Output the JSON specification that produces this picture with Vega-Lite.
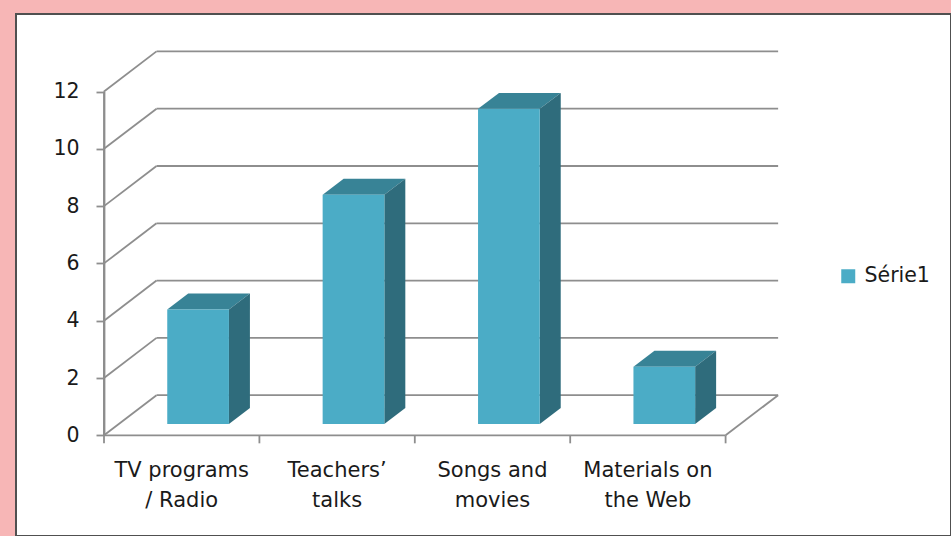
{
  "$schema": "https://vega.github.io/schema/vega-lite/v6.json",
  "width": 935,
  "height": 522,
  "autosize": {"type": "none"},
  "padding": {"left": 16, "top": 14, "right": 0, "bottom": 0},
  "background": "#F7B6B6",
  "config": {
    "view": {"stroke": "#505050", "strokeWidth": 2, "fill": "#ffffff"},
    "font": "DejaVu Sans"
  },
  "datasets": {
    "bars": [
      {"category": "TV programs\n/ Radio", "value": 4, "series": "Série1"},
      {"category": "Teachers’\ntalks", "value": 8, "series": "Série1"},
      {"category": "Songs and\nmovies", "value": 11, "series": "Série1"},
      {"category": "Materials on\nthe Web", "value": 2, "series": "Série1"}
    ],
    "levels": [{"level": 0}, {"level": 2}, {"level": 4}, {"level": 6}, {"level": 8}, {"level": 10}, {"level": 12}],
    "bounds": [{"b": 0}, {"b": 1}, {"b": 2}, {"b": 3}, {"b": 4}]
  },
  "layer": [
    {
      "data": {"name": "levels"},
      "mark": {"type": "rule", "color": "#8E8E8E", "strokeWidth": 1.8},
      "encoding": {
        "x": {"datum": 0, "type": "quantitative", "scale": {"domain": [0, 4], "range": [88, 709.6], "nice": false, "zero": false}, "axis": null},
        "y": {"field": "level", "type": "quantitative", "scale": {"domain": [0, 12], "range": [421.3, 77.5], "nice": false, "zero": false},
          "axis": {"orient": "left", "offset": -88, "values": [0, 2, 4, 6, 8, 10, 12], "title": null, "grid": false,
            "domain": true, "domainColor": "#8E8E8E", "domainWidth": 1.8,
            "ticks": true, "tickColor": "#8E8E8E", "tickWidth": 1.8, "tickSize": 8,
            "labelPadding": 17, "labelFont": "DejaVu Sans", "labelFontSize": 20.5, "labelColor": "#1a1a1a"}},
        "y2": {"datum": 0}
      }
    },
    {
      "data": {"name": "levels"},
      "transform": [{"calculate": "datum.level + 1.4", "as": "yb"}],
      "mark": {"type": "rule", "color": "#8E8E8E", "strokeWidth": 1.8},
      "encoding": {
        "x": {"datum": 0.338, "type": "quantitative", "scale": {"domain": [0, 4], "range": [88, 709.6], "nice": false, "zero": false}, "axis": null},
        "x2": {"datum": 4.338},
        "y": {"field": "yb", "type": "quantitative", "scale": {"domain": [0, 12], "range": [421.3, 77.5], "nice": false, "zero": false}, "axis": {"title": null}}
      }
    },
    {
      "data": {"name": "levels"},
      "transform": [{"calculate": "datum.level + 1.4", "as": "yb"}],
      "mark": {"type": "rule", "color": "#8E8E8E", "strokeWidth": 1.8},
      "encoding": {
        "x": {"datum": 0, "type": "quantitative", "scale": {"domain": [0, 4], "range": [88, 709.6], "nice": false, "zero": false}, "axis": null},
        "x2": {"datum": 0.338},
        "y": {"field": "level", "type": "quantitative", "scale": {"domain": [0, 12], "range": [421.3, 77.5], "nice": false, "zero": false}, "axis": {"title": null}},
        "y2": {"field": "yb"}
      }
    },
    {
      "data": {"values": [{}]},
      "mark": {"type": "rule", "color": "#8E8E8E", "strokeWidth": 1.8},
      "encoding": {
        "x": {"datum": 0, "type": "quantitative", "scale": {"domain": [0, 4], "range": [88, 709.6], "nice": false, "zero": false}, "axis": null},
        "x2": {"datum": 4},
        "y": {"datum": 0, "type": "quantitative", "scale": {"domain": [0, 12], "range": [421.3, 77.5], "nice": false, "zero": false}, "axis": {"title": null}}
      }
    },
    {
      "data": {"values": [{}]},
      "mark": {"type": "rule", "color": "#8E8E8E", "strokeWidth": 1.8},
      "encoding": {
        "x": {"datum": 4, "type": "quantitative", "scale": {"domain": [0, 4], "range": [88, 709.6], "nice": false, "zero": false}, "axis": null},
        "x2": {"datum": 4.338},
        "y": {"datum": 0, "type": "quantitative", "scale": {"domain": [0, 12], "range": [421.3, 77.5], "nice": false, "zero": false}, "axis": {"title": null}},
        "y2": {"datum": 1.4}
      }
    },
    {
      "data": {"name": "bounds"},
      "mark": {"type": "rule", "color": "#8E8E8E", "strokeWidth": 1.8},
      "encoding": {
        "x": {"field": "b", "type": "quantitative", "scale": {"domain": [0, 4], "range": [88, 709.6], "nice": false, "zero": false}, "axis": null},
        "y": {"datum": 0, "type": "quantitative", "scale": {"domain": [0, 12], "range": [421.3, 77.5], "nice": false, "zero": false}, "axis": {"title": null}},
        "y2": {"datum": -0.28}
      }
    },
    {
      "data": {"name": "bars"},
      "transform": [
        {"window": [{"op": "row_number", "as": "rn"}]},
        {"calculate": "datum.rn - 1", "as": "i"},
        {"calculate": "0", "as": "k0"},
        {"calculate": "1", "as": "k1"},
        {"fold": ["k0", "k1"], "as": ["kn", "k"]},
        {"calculate": "datum.value + 0.394 + datum.k * 0.558", "as": "ty"},
        {"calculate": "datum.i + 0.407 + datum.k * 0.135", "as": "tx0"},
        {"calculate": "datum.i + 0.804 + datum.k * 0.135", "as": "tx1"}
      ],
      "mark": {"type": "area", "orient": "horizontal", "color": "#388396"},
      "encoding": {
        "y": {"field": "ty", "type": "quantitative", "scale": {"domain": [0, 12], "range": [421.3, 77.5], "nice": false, "zero": false}, "axis": {"title": null}},
        "x": {"field": "tx0", "type": "quantitative", "scale": {"domain": [0, 4], "range": [88, 709.6], "nice": false, "zero": false}, "axis": null},
        "x2": {"field": "tx1"},
        "detail": {"field": "category"}
      }
    },
    {
      "data": {"name": "bars"},
      "transform": [
        {"window": [{"op": "row_number", "as": "rn"}]},
        {"calculate": "datum.rn - 1", "as": "i"},
        {"calculate": "0", "as": "k0"},
        {"calculate": "1", "as": "k1"},
        {"fold": ["k0", "k1"], "as": ["kn", "k"]},
        {"calculate": "datum.i + 0.804 + datum.k * 0.135", "as": "sx"},
        {"calculate": "0.394 + datum.k * 0.558", "as": "ylo"},
        {"calculate": "datum.value + 0.394 + datum.k * 0.558", "as": "yhi"}
      ],
      "mark": {"type": "area", "orient": "vertical", "color": "#2F6C7C"},
      "encoding": {
        "x": {"field": "sx", "type": "quantitative", "scale": {"domain": [0, 4], "range": [88, 709.6], "nice": false, "zero": false}, "axis": null},
        "y": {"field": "yhi", "type": "quantitative", "scale": {"domain": [0, 12], "range": [421.3, 77.5], "nice": false, "zero": false}, "axis": {"title": null}},
        "y2": {"field": "ylo"},
        "detail": {"field": "category"}
      }
    },
    {
      "data": {"name": "bars"},
      "transform": [
        {"window": [{"op": "row_number", "as": "rn"}]},
        {"calculate": "datum.rn - 1", "as": "i"},
        {"calculate": "datum.i + 0.407", "as": "fx0"},
        {"calculate": "datum.i + 0.804", "as": "fx1"},
        {"calculate": "0.394", "as": "fy0"},
        {"calculate": "datum.value + 0.394", "as": "fy1"}
      ],
      "mark": {"type": "rect"},
      "encoding": {
        "x": {"field": "fx0", "type": "quantitative", "scale": {"domain": [0, 4], "range": [88, 709.6], "nice": false, "zero": false}, "axis": null},
        "x2": {"field": "fx1"},
        "y": {"field": "fy1", "type": "quantitative", "scale": {"domain": [0, 12], "range": [421.3, 77.5], "nice": false, "zero": false}, "axis": {"title": null}},
        "y2": {"field": "fy0"},
        "color": {"field": "series", "type": "nominal", "scale": {"range": ["#4BACC6"]},
          "legend": {"orient": "none", "legendX": 822, "legendY": 252, "title": null, "symbolType": "square", "symbolSize": 196,
            "symbolStrokeWidth": 0, "labelFont": "DejaVu Sans", "labelFontSize": 20.5, "labelOffset": 6, "labelColor": "#1a1a1a", "padding": 0}}
      }
    },
    {
      "data": {"name": "bars"},
      "transform": [
        {"window": [{"op": "row_number", "as": "rn"}]},
        {"calculate": "datum.rn - 0.5", "as": "cx"}
      ],
      "mark": {"type": "text", "font": "DejaVu Sans", "fontSize": 21, "lineBreak": "\n", "lineHeight": 30, "baseline": "alphabetic", "align": "center", "dy": 42, "color": "#1a1a1a"},
      "encoding": {
        "x": {"field": "cx", "type": "quantitative", "scale": {"domain": [0, 4], "range": [88, 709.6], "nice": false, "zero": false}, "axis": null},
        "y": {"datum": 0, "type": "quantitative", "scale": {"domain": [0, 12], "range": [421.3, 77.5], "nice": false, "zero": false}, "axis": {"title": null}},
        "text": {"field": "category"}
      }
    }
  ]
}
